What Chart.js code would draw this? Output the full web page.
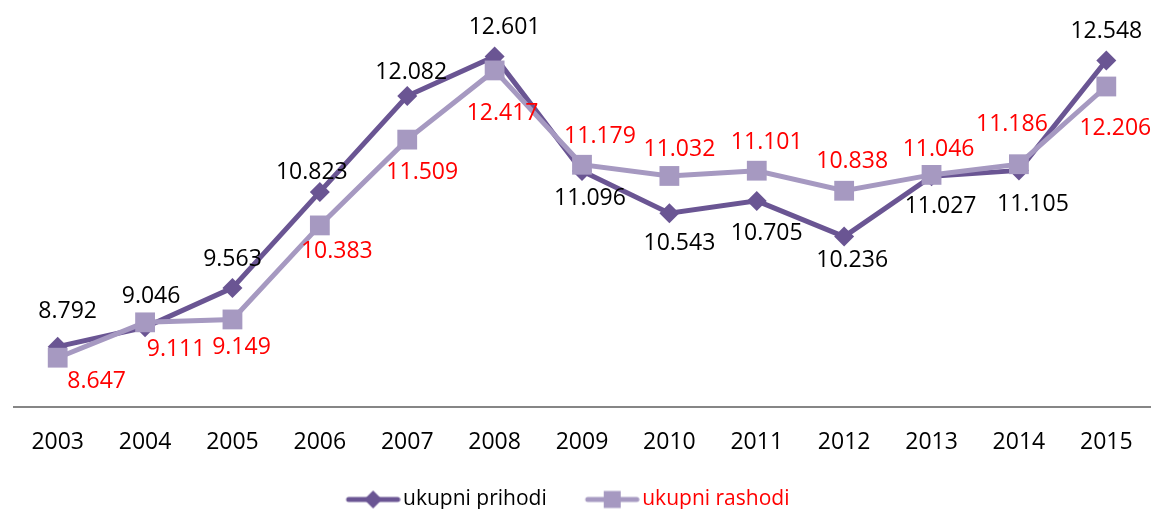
<!DOCTYPE html>
<html><head><meta charset="utf-8">
<script src="https://cdn.jsdelivr.net/npm/chart.js@4.4.1/dist/chart.umd.min.js"></script>
<style>html,body{margin:0;padding:0;background:#fff;}#wrap{width:1164px;height:509px;}</style>
</head><body><div id="wrap"><canvas id="c" width="1164" height="509"></canvas></div>
<script>
// ---- data ----
const categories = ['2003','2004','2005','2006','2007','2008','2009','2010','2011','2012','2013','2014','2015'];
const prihodi = [8.792, 9.046, 9.563, 10.823, 12.082, 12.601, 11.096, 10.543, 10.705, 10.236, 11.027, 11.105, 12.548];
const rashodi = [8.647, 9.111, 9.149, 10.383, 11.509, 12.417, 11.179, 11.032, 11.101, 10.838, 11.046, 11.186, 12.206];
const seriesNames = ['ukupni prihodi', 'ukupni rashodi'];

// ---- style ----
const DARK = '#6a5593';
const LIGHT = '#a699c1';
const FONT = '"Open Sans"';
const prihodiLabelOffsets = [[10,-37],[6,-32],[0,-30],[-8,-21],[4,-25],[10,-30],[8,26],[10,29],[10,31],[8,22],[9,29],[14,33],[0,-30]];
const rashodiLabelOffsets = [[39,22],[31,26],[9,27],[17,25],[15,31],[8,42],[18,-30],[10,-28],[10,-30],[8,-31],[7,-27],[-7,-41],[9,40]];

function legendIcon(color, style) {
  const cv = document.createElement('canvas');
  cv.width = 66; cv.height = 22;
  const g = cv.getContext('2d');
  g.strokeStyle = color; g.lineWidth = 5; g.lineCap = 'round';
  g.beginPath(); g.moveTo(14, 11); g.lineTo(63, 11); g.stroke();
  g.fillStyle = color;
  const cx = 38.5, cy = 11;
  if (style === 'diamond') {
    g.beginPath(); g.moveTo(cx - 9, cy); g.lineTo(cx, cy - 9); g.lineTo(cx + 9, cy); g.lineTo(cx, cy + 9); g.closePath(); g.fill();
  } else {
    g.fillRect(cx - 8.5, cy - 8.5, 17, 17);
  }
  return cv;
}

const labelPlugin = {
  id: 'valueLabels',
  afterLayout(chart) {
    // legend sits slightly left of the canvas centre in the original
    if (chart.legend) { chart.legend.left -= 20; chart.legend.right -= 20; }
  },
  afterDatasetsDraw(chart) {
    const ctx = chart.ctx;
    const cfg = [
      {ds: 0, offs: prihodiLabelOffsets, color: '#000000'},
      {ds: 1, offs: rashodiLabelOffsets, color: '#ff0000'}
    ];
    ctx.save();
    ctx.font = '23px ' + FONT;
    ctx.textAlign = 'center';
    ctx.textBaseline = 'alphabetic';
    cfg.forEach(c => {
      const meta = chart.getDatasetMeta(c.ds);
      const vals = chart.data.datasets[c.ds].data;
      ctx.fillStyle = c.color;
      meta.data.forEach((pt, i) => {
        const o = c.offs[i];
        ctx.fillText(vals[i].toFixed(3), pt.x + o[0], pt.y + o[1] + 8);
      });
    });
    ctx.restore();
  }
};

function draw() {
  Chart.defaults.font.family = FONT;
  const icons = [legendIcon(DARK, 'diamond'), legendIcon(LIGHT, 'square')];
  new Chart(document.getElementById('c'), {
    type: 'line',
    data: {
      labels: categories,
      datasets: [
        {label: seriesNames[0], data: prihodi, borderColor: DARK, backgroundColor: DARK, borderWidth: 5,
         pointStyle: 'rectRot', pointRadius: 10, pointHoverRadius: 10, pointBackgroundColor: DARK, pointBorderColor: DARK, pointBorderWidth: 0,
         tension: 0, order: 1},
        {label: seriesNames[1], data: rashodi, borderColor: LIGHT, backgroundColor: LIGHT, borderWidth: 5,
         pointStyle: 'rect', pointRadius: 14, pointHoverRadius: 14, pointBackgroundColor: LIGHT, pointBorderColor: LIGHT, pointBorderWidth: 0,
         tension: 0, order: 0}
      ]
    },
    options: {
      responsive: false,
      animation: false,
      devicePixelRatio: 1,
      layout: {padding: {top: 26, left: 11, right: 3, bottom: -11}},
      scales: {
        x: {
          offset: true,
          grid: {display: false, drawTicks: false},
          border: {display: true, color: '#868686', width: 2},
          ticks: {color: '#000', font: {size: 23, family: FONT}, padding: 22, maxRotation: 0, autoSkip: false},
          afterFit(s) { s.height = 47; }
        },
        y: {display: false, min: 8, max: 13}
      },
      plugins: {
        tooltip: {enabled: false},
        legend: {
          position: 'bottom',
          labels: {
            usePointStyle: true, pointStyleWidth: 50, boxHeight: 21, padding: 35,
            font: {size: 21, family: FONT},
            generateLabels() {
              return [
                {text: seriesNames[0], fontColor: '#000000', pointStyle: icons[0], hidden: false, datasetIndex: 0, lineWidth: 0, strokeStyle: 'rgba(0,0,0,0)', fillStyle: DARK},
                {text: seriesNames[1], fontColor: '#ff0000', pointStyle: icons[1], hidden: false, datasetIndex: 1, lineWidth: 0, strokeStyle: 'rgba(0,0,0,0)', fillStyle: LIGHT}
              ];
            }
          }
        }
      }
    },
    plugins: [labelPlugin]
  });
}
if (document.fonts && document.fonts.load) {
  document.fonts.load('23px "Open Sans"').then(draw, draw);
} else { draw(); }
</script>
</body></html>
